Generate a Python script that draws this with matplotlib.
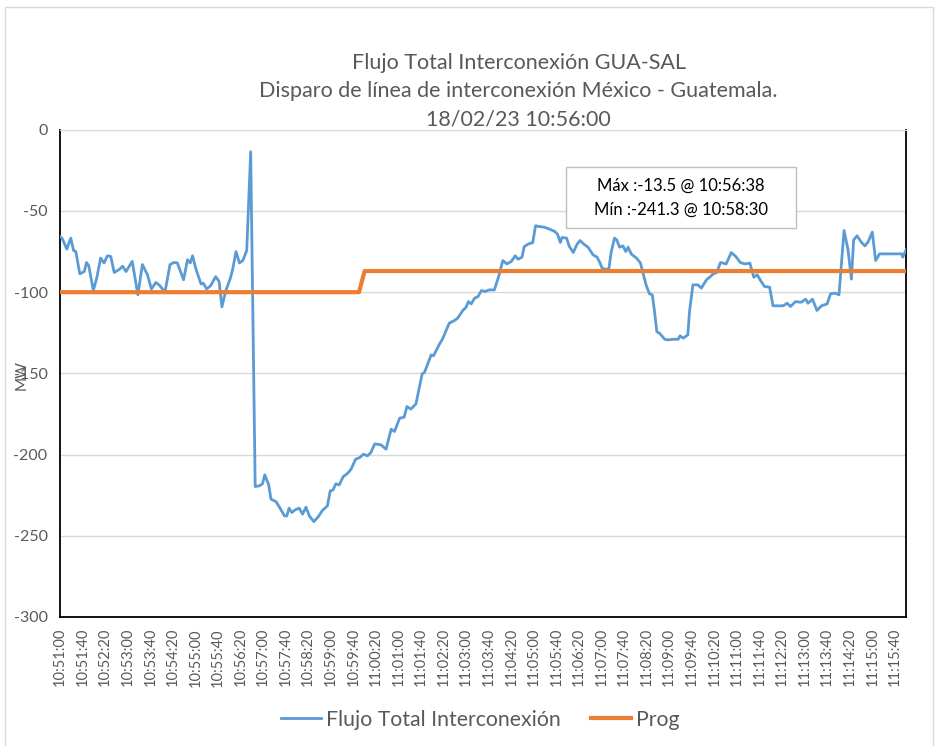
import matplotlib
matplotlib.use("Agg")
import matplotlib.pyplot as plt
from matplotlib.patches import Rectangle

plt.rcParams['font.family'] = ['Lato', 'DejaVu Sans']
plt.rcParams['axes.unicode_minus'] = False

# seconds after 10:51:00
flujo_t = [0, 4, 12, 19, 24, 28, 35, 43, 47, 51, 59, 65, 72, 78, 84, 90, 96, 105, 111, 117,
           128, 138, 146, 155, 162, 170, 177, 186, 195, 202, 208, 219, 226, 231, 235, 241,
           250, 254, 260, 267, 276, 282, 287, 294, 302, 306, 312, 318, 324, 331, 338,
           346, 353, 359, 363, 370, 374, 383, 390, 398, 402, 406, 411, 417, 424, 430, 436,
           442, 450, 458, 465, 474, 479, 484, 489, 495, 502, 510, 516, 524, 531, 538, 545,
           551, 558, 569, 578, 587, 593, 602, 610, 615, 622, 631, 642, 646, 658, 662, 673,
           678, 690, 699, 705, 714, 720, 724, 729, 735, 741, 747, 754, 760, 770, 778, 785,
           792, 800, 807, 812, 819, 823, 831, 838, 843, 850, 859, 868, 877, 882, 887, 890,
           898, 903, 910, 916, 922, 930, 936, 945, 952, 957, 961, 967, 973, 977, 983, 987,
           992, 998, 1003, 1007, 1013, 1022, 1029, 1034, 1039, 1045, 1050, 1054, 1058, 1064,
           1072, 1078, 1087, 1096, 1099, 1105, 1113, 1116, 1122, 1131, 1137, 1146, 1153,
           1158, 1164, 1171, 1181, 1190, 1198, 1206, 1214, 1223, 1230, 1236, 1243, 1249,
           1258, 1264, 1273, 1282, 1289, 1295, 1304, 1314, 1322, 1326, 1334, 1342, 1350,
           1360, 1366, 1374, 1381, 1390, 1397, 1403, 1407, 1413, 1421, 1427, 1433, 1440,
           1446, 1453, 1465, 1480, 1492, 1494, 1500]
flujo = [-65.7, -67, -73.5, -66.7, -74.3, -75, -88.7, -87.3, -81.7, -83.8, -99, -91.4, -79,
         -82, -77.6, -78, -87.9, -86, -84, -87.3, -81, -101.6, -83, -89.3, -98, -94, -96,
         -100, -83, -81.7, -82, -92.4, -80, -82, -77.6, -85.8, -95, -94.5, -98, -96, -90.4,
         -93.4, -109, -99, -91.4, -86, -75, -82, -80.5, -74.3, -13.5,
         -219.7, -219.3, -218, -212.5, -218.7, -227.5, -229, -233, -237.8, -237.8, -233,
         -235.7, -234, -233, -236.7, -232.4, -237.8, -241.3, -238.2, -234.5, -231.6, -222.4,
         -221.8, -218, -218.7, -213.6, -211.5, -209, -202.9, -201.9, -199.8, -200.8, -198.8,
         -193.4, -194, -196.7, -184.4, -185.8, -177.6, -177, -170.4, -172, -168.8, -150.3,
         -149.5, -138.6, -139.2, -131.8, -128.9, -119.1, -117.5, -116, -111.3, -109.2,
         -105.8, -107.2, -103.7, -102.7, -99, -99.6, -98.6, -98.6, -89.9, -80.5, -82.6,
         -81.1, -77.6, -79.7, -78.4, -71.9, -70.2, -69.5, -59.1, -59.6, -60, -61.2, -62.6,
         -64.3, -69.4, -66.3, -66.7, -71.9, -75.6, -70.8, -68.2, -70.8, -72.3, -77, -78.4,
         -81.7, -85.2, -85.8, -85.8, -75.6, -66.7, -67.8, -72.3, -71.5, -75, -72.3, -76.6,
         -79, -82, -88.7, -95.5, -101, -101.6, -111.9, -124.2, -125.7, -129, -129.4, -129,
         -129, -126.9, -128.3, -126.3, -111.9, -95.5, -95.5, -97.5, -92.4, -90.4, -88.7,
         -88, -81.7, -82.6, -75.6, -78, -81.7, -82.6, -82.1, -90.8, -89.3, -93.4, -96.5,
         -96.9, -108.4, -108.4, -108.4, -106.8, -108.8, -105.8, -106.2, -104.3, -106.8,
         -104.3, -111.3, -108.4, -107.2, -101, -100.6, -101.6, -62, -73.9, -92, -67.8,
         -65.3, -69.4, -71.5, -68.8, -63, -80.5, -76.4, -76.4, -76.4, -76.4, -78.4, -73.9]

prog_t = [0, 530, 540, 1500]
prog = [-100, -100, -87, -87]

tick_t = list(range(0, 1481, 40))
tick_labels = []
for s in tick_t:
    tot = 10 * 3600 + 51 * 60 + s
    tick_labels.append("%02d:%02d:%02d" % (tot // 3600, (tot % 3600) // 60, tot % 60))

title = ("Flujo Total Interconexión GUA-SAL\n"
         "Disparo de línea de interconexión México - Guatemala.\n"
         "18/02/23 10:56:00")
note = "Máx :-13.5 @ 10:56:38\nMín :-241.3 @ 10:58:30"

gray = '#595959'
fig = plt.figure(figsize=(9.38, 7.46), dpi=100)
fig.patches.append(Rectangle((0.005, -0.01), 0.99, 1.0, transform=fig.transFigure,
                             fill=False, edgecolor='#d9d9d9', lw=1))
ax = fig.add_axes([0.064, 0.173, 0.902, 0.653])

ax.plot(flujo_t, flujo, color='#5B9BD5', lw=2.0, label='Flujo Total Interconexión', zorder=3)
ax.plot(prog_t, prog, color='#ED7D31', lw=3.0, label='Prog', zorder=4)

ax.set_xlim(0, 1500)
ax.set_ylim(-300, 0)
ax.set_yticks(range(-300, 1, 50))
ax.set_xticks(tick_t)
ax.set_xticklabels(tick_labels, rotation=90)
ax.tick_params(axis='both', length=0, colors=gray, labelsize=11.5)
ax.tick_params(axis='x', pad=8, labelsize=10.5)
ax.tick_params(axis='y', pad=9)
ax.yaxis.grid(True, color='#d9d9d9', lw=1)
ax.set_axisbelow(True)
for s in ['left', 'bottom', 'right']:
    ax.spines[s].set_color('black')
    ax.spines[s].set_linewidth(1.3)
ax.spines['top'].set_color('#d9d9d9')

fig.text(0.023, 0.497, 'MW', rotation=90, ha='center', va='center', fontsize=11, color=gray)
fig.text(0.553, 0.878, title, ha='center', va='center', fontsize=15.5, color=gray,
         linespacing=1.5)

ax.add_patch(Rectangle((0.598, 0.799), 0.272, 0.125, transform=ax.transAxes,
                       fc='white', ec='#bfbfbf', lw=1, zorder=5))
ax.text(0.734, 0.861, note, transform=ax.transAxes, ha='center', va='center', fontsize=12,
        color='black', linespacing=1.6, zorder=6)

leg = fig.legend(loc='center', bbox_to_anchor=(0.512, 0.035), ncol=2, frameon=False,
                 fontsize=15.3, handlelength=1.9, columnspacing=1.4, handletextpad=0.25)
for t in leg.get_texts():
    t.set_color(gray)

fig.savefig('out.png', dpi=100)
